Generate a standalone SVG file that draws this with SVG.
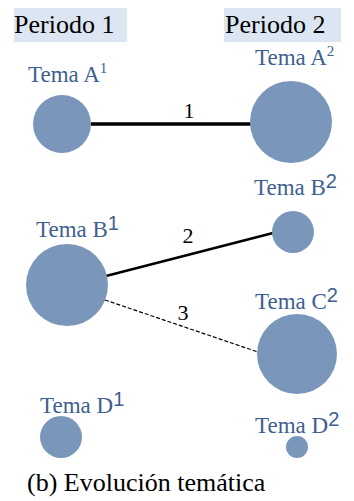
<svg xmlns="http://www.w3.org/2000/svg" width="354" height="501" viewBox="0 0 354 501">
<style>
.hdr{fill:#dce6f2}
.ht{font-family:'Liberation Serif',serif;font-size:26px;fill:#000}
.lbl{font-family:'Liberation Serif',serif;font-size:23px;fill:#3e5f8f}
.sup{font-size:15px}
.sups{font-family:'Liberation Sans',sans-serif;font-size:20px}
.nd{fill:#7a97bb}
.num{font-family:'Liberation Serif',serif;font-size:22px;fill:#000;text-anchor:middle}
.cap{font-family:'Liberation Serif',serif;font-size:26px;fill:#000}
.ln{stroke:#000}
</style>
<rect class="hdr" x="14" y="8" width="113" height="34"/>
<text class="ht" x="14" y="33" font-family="Liberation Serif" style="font-family:'Liberation Serif',serif">Periodo 1</text>
<rect class="hdr" x="224" y="8" width="117" height="34"/>
<text class="ht" x="225" y="33" font-family="Liberation Serif" style="font-family:'Liberation Serif',serif">Periodo 2</text>
<g id="connectors">
<line class="ln" x1="91" y1="124" x2="251" y2="124" stroke-width="3.5"/>
<line class="ln" x1="106" y1="276" x2="273" y2="233" stroke-width="2.5"/>
<line class="ln" x1="105" y1="300" x2="258" y2="352" stroke-width="1.2" stroke-dasharray="4,2"/>
<text class="num" x="189" y="118" style="font-family:'Liberation Serif',serif">1</text>
<text class="num" x="188" y="243" style="font-family:'Liberation Serif',serif">2</text>
<text class="num" x="183" y="320" style="font-family:'Liberation Serif',serif">3</text>
</g>
<g id="A1"><circle class="nd" cx="62" cy="124" r="29"/><text class="lbl" x="28" y="82" style="font-family:'Liberation Serif',serif">Tema A<tspan class="sup" dy="-9">1</tspan></text></g>
<g id="A2"><circle class="nd" cx="291" cy="122" r="41"/><text class="lbl" x="255" y="65" style="font-family:'Liberation Serif',serif">Tema A<tspan class="sup" dy="-9">2</tspan></text></g>
<g id="B1"><circle class="nd" cx="67" cy="285" r="41"/><text class="lbl" x="36" y="237" style="font-family:'Liberation Serif',serif">Tema B<tspan class="sups" dy="-7" style="font-family:'Liberation Sans',sans-serif">1</tspan></text></g>
<g id="B2"><circle class="nd" cx="293" cy="232" r="21"/><text class="lbl" x="254" y="195" style="font-family:'Liberation Serif',serif">Tema B<tspan class="sups" dy="-7" style="font-family:'Liberation Sans',sans-serif">2</tspan></text></g>
<g id="C2"><circle class="nd" cx="297" cy="354" r="40"/><text class="lbl" x="255" y="309" style="font-family:'Liberation Serif',serif">Tema C<tspan class="sups" dy="-7" style="font-family:'Liberation Sans',sans-serif">2</tspan></text></g>
<g id="D1"><circle class="nd" cx="61" cy="437" r="21"/><text class="lbl" x="40" y="413" style="font-family:'Liberation Serif',serif">Tema D<tspan class="sups" dy="-7" style="font-family:'Liberation Sans',sans-serif">1</tspan></text></g>
<g id="D2"><circle class="nd" cx="297" cy="447" r="11"/><text class="lbl" x="255" y="433" style="font-family:'Liberation Serif',serif">Tema D<tspan class="sups" dy="-7" style="font-family:'Liberation Sans',sans-serif">2</tspan></text></g>
<text class="cap" x="27" y="491" style="font-family:'Liberation Serif',serif">(b) Evoluci&#243;n tem&#225;tica</text>
</svg>
